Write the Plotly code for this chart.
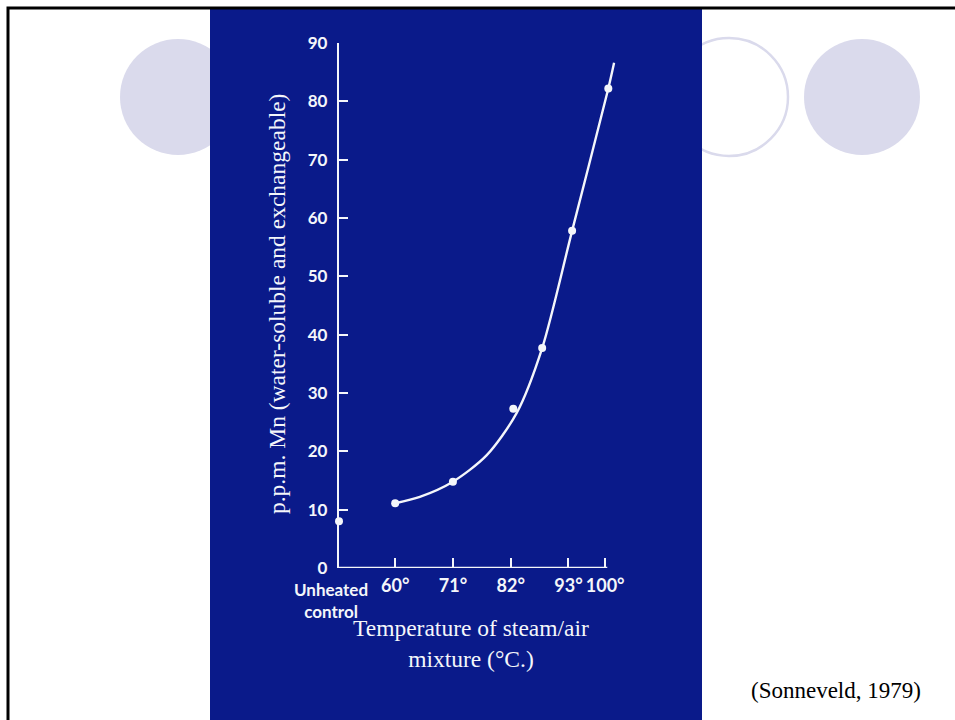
import plotly.graph_objects as go

W, H = 955, 720

# ---- data ----
x_tick_pos = [49.3, 60, 71, 82, 93, 100]
x_tick_text = ["Unheated<br>control", "60°", "71°", "82°", "93°", "100°"]
y_tick_vals = [0, 10, 20, 30, 40, 50, 60, 70, 80, 90]

obs_x = [49.3, 60, 71, 82.5, 88, 93.7, 100.6]
obs_y = [8.0, 11.1, 14.8, 27.3, 37.7, 57.8, 82.2]

curve_x = [60, 64.7, 71, 77.4, 83.1, 88, 93.7, 100.6, 101.7]
curve_y = [11.1, 12.2, 14.8, 19.3, 26.5, 37.7, 57.8, 82.2, 86.6]

x_range = [49.3, 102.0]
y_range = [0, 90]


def px(x):
    return x / W


def py(y):
    return 1 - y / H


BLUE = "#0A1A8A"
LAV = "#DADAEC"
WHITE = "#F4F6FA"
TICKFONT = dict(family="Lato", size=18, color=WHITE, weight="bold")

fig = go.Figure()
fig.add_trace(go.Scatter(x=curve_x, y=curve_y, mode="lines",
                         line=dict(color=WHITE, width=2.4, shape="spline", smoothing=0.8),
                         hoverinfo="skip", showlegend=False))
fig.add_trace(go.Scatter(x=obs_x, y=obs_y, mode="markers",
                         marker=dict(color=WHITE, size=8),
                         cliponaxis=False, showlegend=False))

left_px = 339
right_px = left_px + (x_range[1] - x_range[0]) * 5.25

shapes = [
    dict(type="circle", xref="paper", yref="paper", x0=px(120), x1=px(236), y0=py(155), y1=py(39),
         fillcolor=LAV, line=dict(width=0), layer="below"),
    dict(type="circle", xref="paper", yref="paper", x0=px(670), x1=px(788), y0=py(156), y1=py(38),
         fillcolor="rgba(0,0,0,0)", line=dict(color=LAV, width=2.5), layer="below"),
    dict(type="circle", xref="paper", yref="paper", x0=px(804), x1=px(920), y0=py(155), y1=py(39),
         fillcolor=LAV, line=dict(width=0), layer="below"),
    dict(type="rect", xref="paper", yref="paper", x0=px(210), x1=px(702), y0=py(730), y1=py(8),
         fillcolor=BLUE, line=dict(width=0), layer="below"),
    dict(type="line", xref="x", yref="y", x0=x_range[0], x1=100.4, y0=0, y1=0,
         line=dict(color=WHITE, width=2.4), layer="below"),
    dict(type="rect", xref="paper", yref="paper", x0=px(8), x1=px(975), y0=py(740), y1=py(8),
         fillcolor="rgba(0,0,0,0)", line=dict(color="black", width=3), layer="above"),
]

annotations = [
    dict(text=x_tick_text[0], xref="x", yref="paper", x=x_tick_pos[0], xshift=-8,
         y=py(578), showarrow=False, xanchor="center", yanchor="top", borderpad=0,
         font=dict(family="Lato", size=17, color=WHITE, weight="bold")),
    dict(text="p.p.m. Mn (water-soluble and exchangeable)", xref="paper", yref="paper",
         x=px(277), y=py(304), textangle=-90, showarrow=False, xanchor="center", yanchor="middle",
         font=dict(family="Liberation Serif", size=23.5, color=WHITE)),
    dict(text="Temperature of steam/air<br>mixture (°C.)", xref="paper", yref="paper",
         x=px(471), y=py(643), showarrow=False, xanchor="center", yanchor="middle",
         font=dict(family="Liberation Serif", size=23.5, color=WHITE)),
    dict(text="(Sonneveld, 1979)", xref="paper", yref="paper",
         x=px(836), y=py(690), showarrow=False, xanchor="center", yanchor="middle",
         font=dict(family="Liberation Serif", size=23, color="black")),
]

fig.update_layout(
    width=W, height=H, template="none",
    margin=dict(l=0, r=0, t=0, b=0),
    paper_bgcolor="white", plot_bgcolor="rgba(0,0,0,0)",
    showlegend=False,
    shapes=shapes, annotations=annotations,
    xaxis=dict(domain=[px(left_px), px(right_px)], range=x_range,
               tickmode="array", tickvals=x_tick_pos, ticktext=[""] + x_tick_text[1:],
               tickangle=0,
               ticks="inside", ticklen=10, tickwidth=2, tickcolor=WHITE,
               showline=False, showgrid=False, zeroline=False, automargin=False,
               ticklabelstandoff=5, tickfont=TICKFONT),
    yaxis=dict(domain=[py(568), py(43)], range=y_range,
               tickmode="array", tickvals=y_tick_vals,
               ticks="inside", ticklen=9, tickwidth=2, tickcolor=WHITE,
               showline=True, linecolor=WHITE, linewidth=2.4,
               showgrid=False, zeroline=False, automargin=False,
               ticklabelstandoff=6,
               tickfont=dict(family="Lato", size=17, color=WHITE, weight="bold")),
)

fig.write_html("out.html", config={"displayModeBar": False},
               post_script="document.body.style.margin='0px';")
